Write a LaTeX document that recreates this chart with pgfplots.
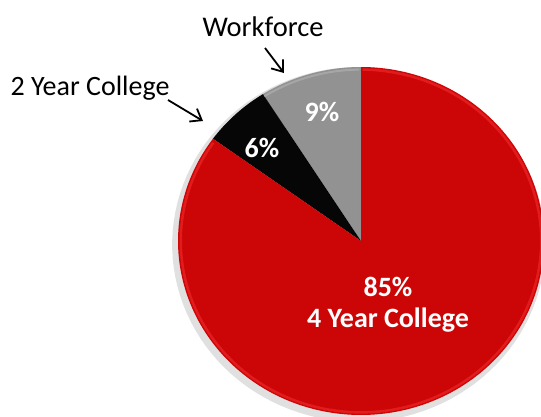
\documentclass[border=0pt]{standalone}
\usepackage{pgfplots}
\pgfplotsset{compat=1.18}
\usepackage{pgfplotstable}
\usepackage{fontspec}
\setmainfont{Carlito}
\usetikzlibrary{arrows.meta}
\definecolor{pieRed}{RGB}{204,6,6}
\definecolor{pieRedLight}{RGB}{226,28,28}
\definecolor{pieGray}{RGB}{146,146,146}
\definecolor{pieBlack}{RGB}{6,6,6}
\pgfplotstableread{
label value
Workforce 9
TwoYear 6
FourYear 85
}\piedata
\pgfplotstablegetelem{0}{value}\of\piedata \let\vA\pgfplotsretval
\pgfplotstablegetelem{1}{value}\of\piedata \let\vB\pgfplotsretval
\pgfplotstablegetelem{2}{value}\of\piedata \let\vC\pgfplotsretval
\pgfmathsetmacro{\aA}{90}
\pgfmathsetmacro{\aB}{\aA+3.6*\vA}
\pgfmathsetmacro{\aC}{\aB+3.6*\vB}
\pgfmathsetmacro{\aD}{\aC+3.6*\vC}
\begin{document}
\begin{tikzpicture}
\path[use as bounding box] (0,0) rectangle (541pt,417pt);
\begin{axis}[at={(0,0)}, anchor=south west,
  width=541pt, height=417pt, scale only axis, hide axis,
  xmin=-1.9727, xmax=0.9836, ymin=-1.0115, ymax=1.3851, clip=true]
% soft shadow
\addplot[draw=none, fill=black, fill opacity=0.12, domain=0:360, samples=120]
  ({-0.012+1.02*cos(x)},{-0.02+1.02*sin(x)}) -- cycle;
% sectors
\addplot[draw=none, fill=pieGray, domain=\aA:\aB, samples=40]
  ({cos(x)},{sin(x)}) -- (0,0) -- cycle;
\addplot[draw=none, fill=pieBlack, domain=\aB:\aC, samples=30]
  ({cos(x)},{sin(x)}) -- (0,0) -- cycle;
\addplot[draw=none, fill=pieRed, domain=\aC:\aD, samples=200]
  ({cos(x)},{sin(x)}) -- (0,0) -- cycle;
% rim highlight
\addplot[pieRedLight, line width=2.5pt, domain=\aC+1:\aD-0.5, samples=200]
  ({0.985*cos(x)},{0.985*sin(x)});
\addplot[gray!70!white, line width=2pt, domain=\aA+0.5:\aB, samples=30]
  ({0.985*cos(x)},{0.985*sin(x)});
% labels
\node[font=\fontsize{28.5}{32}\selectfont] at (-0.5355,1.2299) {Workforce};
\node[font=\fontsize{28}{32}\selectfont] at (-1.4809,0.8793) {2 Year College};
\node[font=\fontsize{28}{32}\selectfont\bfseries, text=white] at (-0.2131,0.7414) {9\%};
\node[font=\fontsize{28}{32}\selectfont\bfseries, text=white] at (-0.541,0.5345) {6\%};
\node[font=\fontsize{28}{32}\selectfont\bfseries, text=white] at (0.1475,-0.2644) {85\%};
\node[font=\fontsize{28}{32}\selectfont\bfseries, text=white] at (0.1475,-0.454) {4 Year College};
\draw[line width=1.8pt, -{Straight Barb[length=10pt,width=15pt,line width=1.8pt]}] (-0.5246,1.1092) -- (-0.4208,0.9655);
\draw[line width=1.8pt, -{Straight Barb[length=10pt,width=15pt,line width=1.8pt]}] (-1.0546,0.8103) -- (-0.8634,0.6897);
\end{axis}
\end{tikzpicture}
\end{document}
